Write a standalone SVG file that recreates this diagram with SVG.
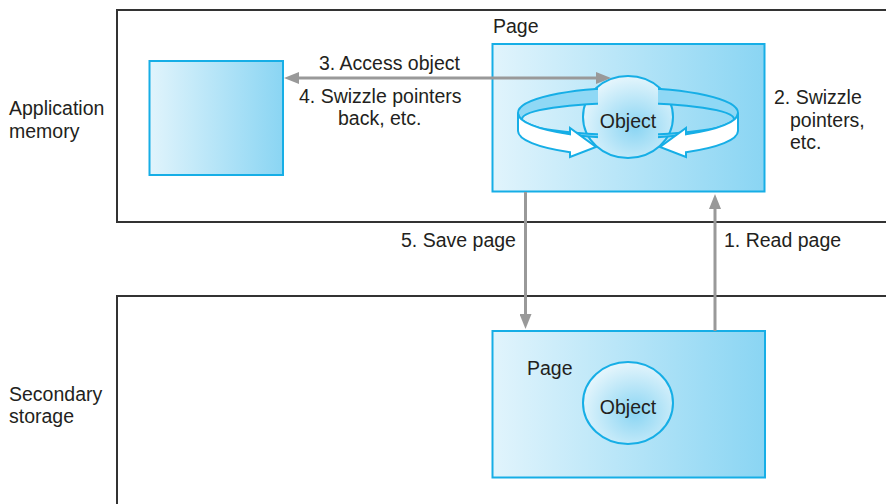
<svg xmlns="http://www.w3.org/2000/svg" width="886" height="504" viewBox="0 0 886 504">
<defs>
<linearGradient id="pg" x1="0" y1="0" x2="1" y2="0">
<stop offset="0" stop-color="#e1f4fc"/>
<stop offset="1" stop-color="#8ad5f3"/>
</linearGradient>
<radialGradient id="og" cx="0.58" cy="0.62" r="0.62">
<stop offset="0" stop-color="#8ad5f3"/>
<stop offset="1" stop-color="#e4f5fc"/>
</radialGradient>
<clipPath id="ringclip">
<rect x="500" y="60" width="98" height="100"/>
<rect x="658" y="60" width="100" height="100"/>
</clipPath>
<marker id="ah" viewBox="0 0 15 12" refX="1" refY="6" markerWidth="15" markerHeight="12" markerUnits="userSpaceOnUse" orient="auto-start-reverse">
<path d="M0,0 L15,6 L0,12 z" fill="#999999"/>
</marker>
</defs>
<style>
.region{fill:#ffffff;stroke:#333333;stroke-width:2}
.page{fill:url(#pg);stroke:#16aee6;stroke-width:2}
.obj{fill:url(#og);stroke:#16aee6;stroke-width:2}
.band{fill:#8fd8f5;stroke:#16aee6;stroke-width:2;fill-rule:evenodd}
.wall{fill:#ffffff;stroke:#16aee6;stroke-width:2;stroke-linejoin:miter}
.lbl{font-family:"Liberation Sans",Arial,sans-serif;font-size:19.5px;fill:#231f20}
.conn{fill:none;stroke:#999999;stroke-width:3}
</style>

<g id="app-memory">
<rect class="region" x="117" y="10" width="780" height="212"/>
<text class="lbl" x="9" y="115">Application</text>
<text class="lbl" x="9" y="138">memory</text>
</g>

<g id="secondary-storage">
<rect class="region" x="117" y="296" width="780" height="220"/>
<text class="lbl" x="9" y="401">Secondary</text>
<text class="lbl" x="9" y="423">storage</text>
</g>

<g id="app-object">
<rect class="page" x="149.5" y="61" width="133.5" height="114"/>
</g>

<g id="page-memory">
<rect class="page" x="492.5" y="44" width="272" height="147.5"/>
<text class="lbl" x="493" y="33">Page</text>
<ellipse class="obj" cx="628" cy="117" rx="45" ry="41"/>
<path class="band" clip-path="url(#ringclip)" d="M518,113 A110,25 0 1,1 738,113 A110,25 0 1,1 518,113 Z M522,119 A106,16 0 1,0 734,119 A106,16 0 1,0 522,119 Z"/>
<path class="wall" d="M518,113 L518,131 A110,25 0 0,0 570,152.2 L570,157 L596,147 L570,128 L570,134.3 A110,25 0 0,1 518,113 Z"/>
<path class="wall" d="M738,113 L738,131 A110,25 0 0,1 686,152.2 L686,157 L660,147 L686,128 L686,134.3 A110,25 0 0,0 738,113 Z"/>
<text class="lbl" x="628" y="127.5" text-anchor="middle">Object</text>
</g>

<g id="page-storage">
<rect class="page" x="492.5" y="331" width="272.5" height="146.5"/>
<text class="lbl" x="527" y="375">Page</text>
<ellipse class="obj" cx="628" cy="403" rx="45" ry="41"/>
<text class="lbl" x="628" y="414" text-anchor="middle">Object</text>
</g>

<g id="connectors">
<path class="conn" d="M298,78 L597,78" marker-start="url(#ah)" marker-end="url(#ah)"/>
<path class="conn" d="M525.5,192 L525.5,315" marker-end="url(#ah)"/>
<path class="conn" d="M715,331 L715,208" marker-end="url(#ah)"/>
<text class="lbl" x="319" y="70">3. Access object</text>
<text class="lbl" x="299" y="103">4. Swizzle pointers</text>
<text class="lbl" x="338" y="125">back, etc.</text>
<text class="lbl" x="774" y="104">2. Swizzle</text>
<text class="lbl" x="790" y="127">pointers,</text>
<text class="lbl" x="790" y="149">etc.</text>
<text class="lbl" x="401" y="247">5. Save page</text>
<text class="lbl" x="724" y="247">1. Read page</text>
</g>
</svg>
